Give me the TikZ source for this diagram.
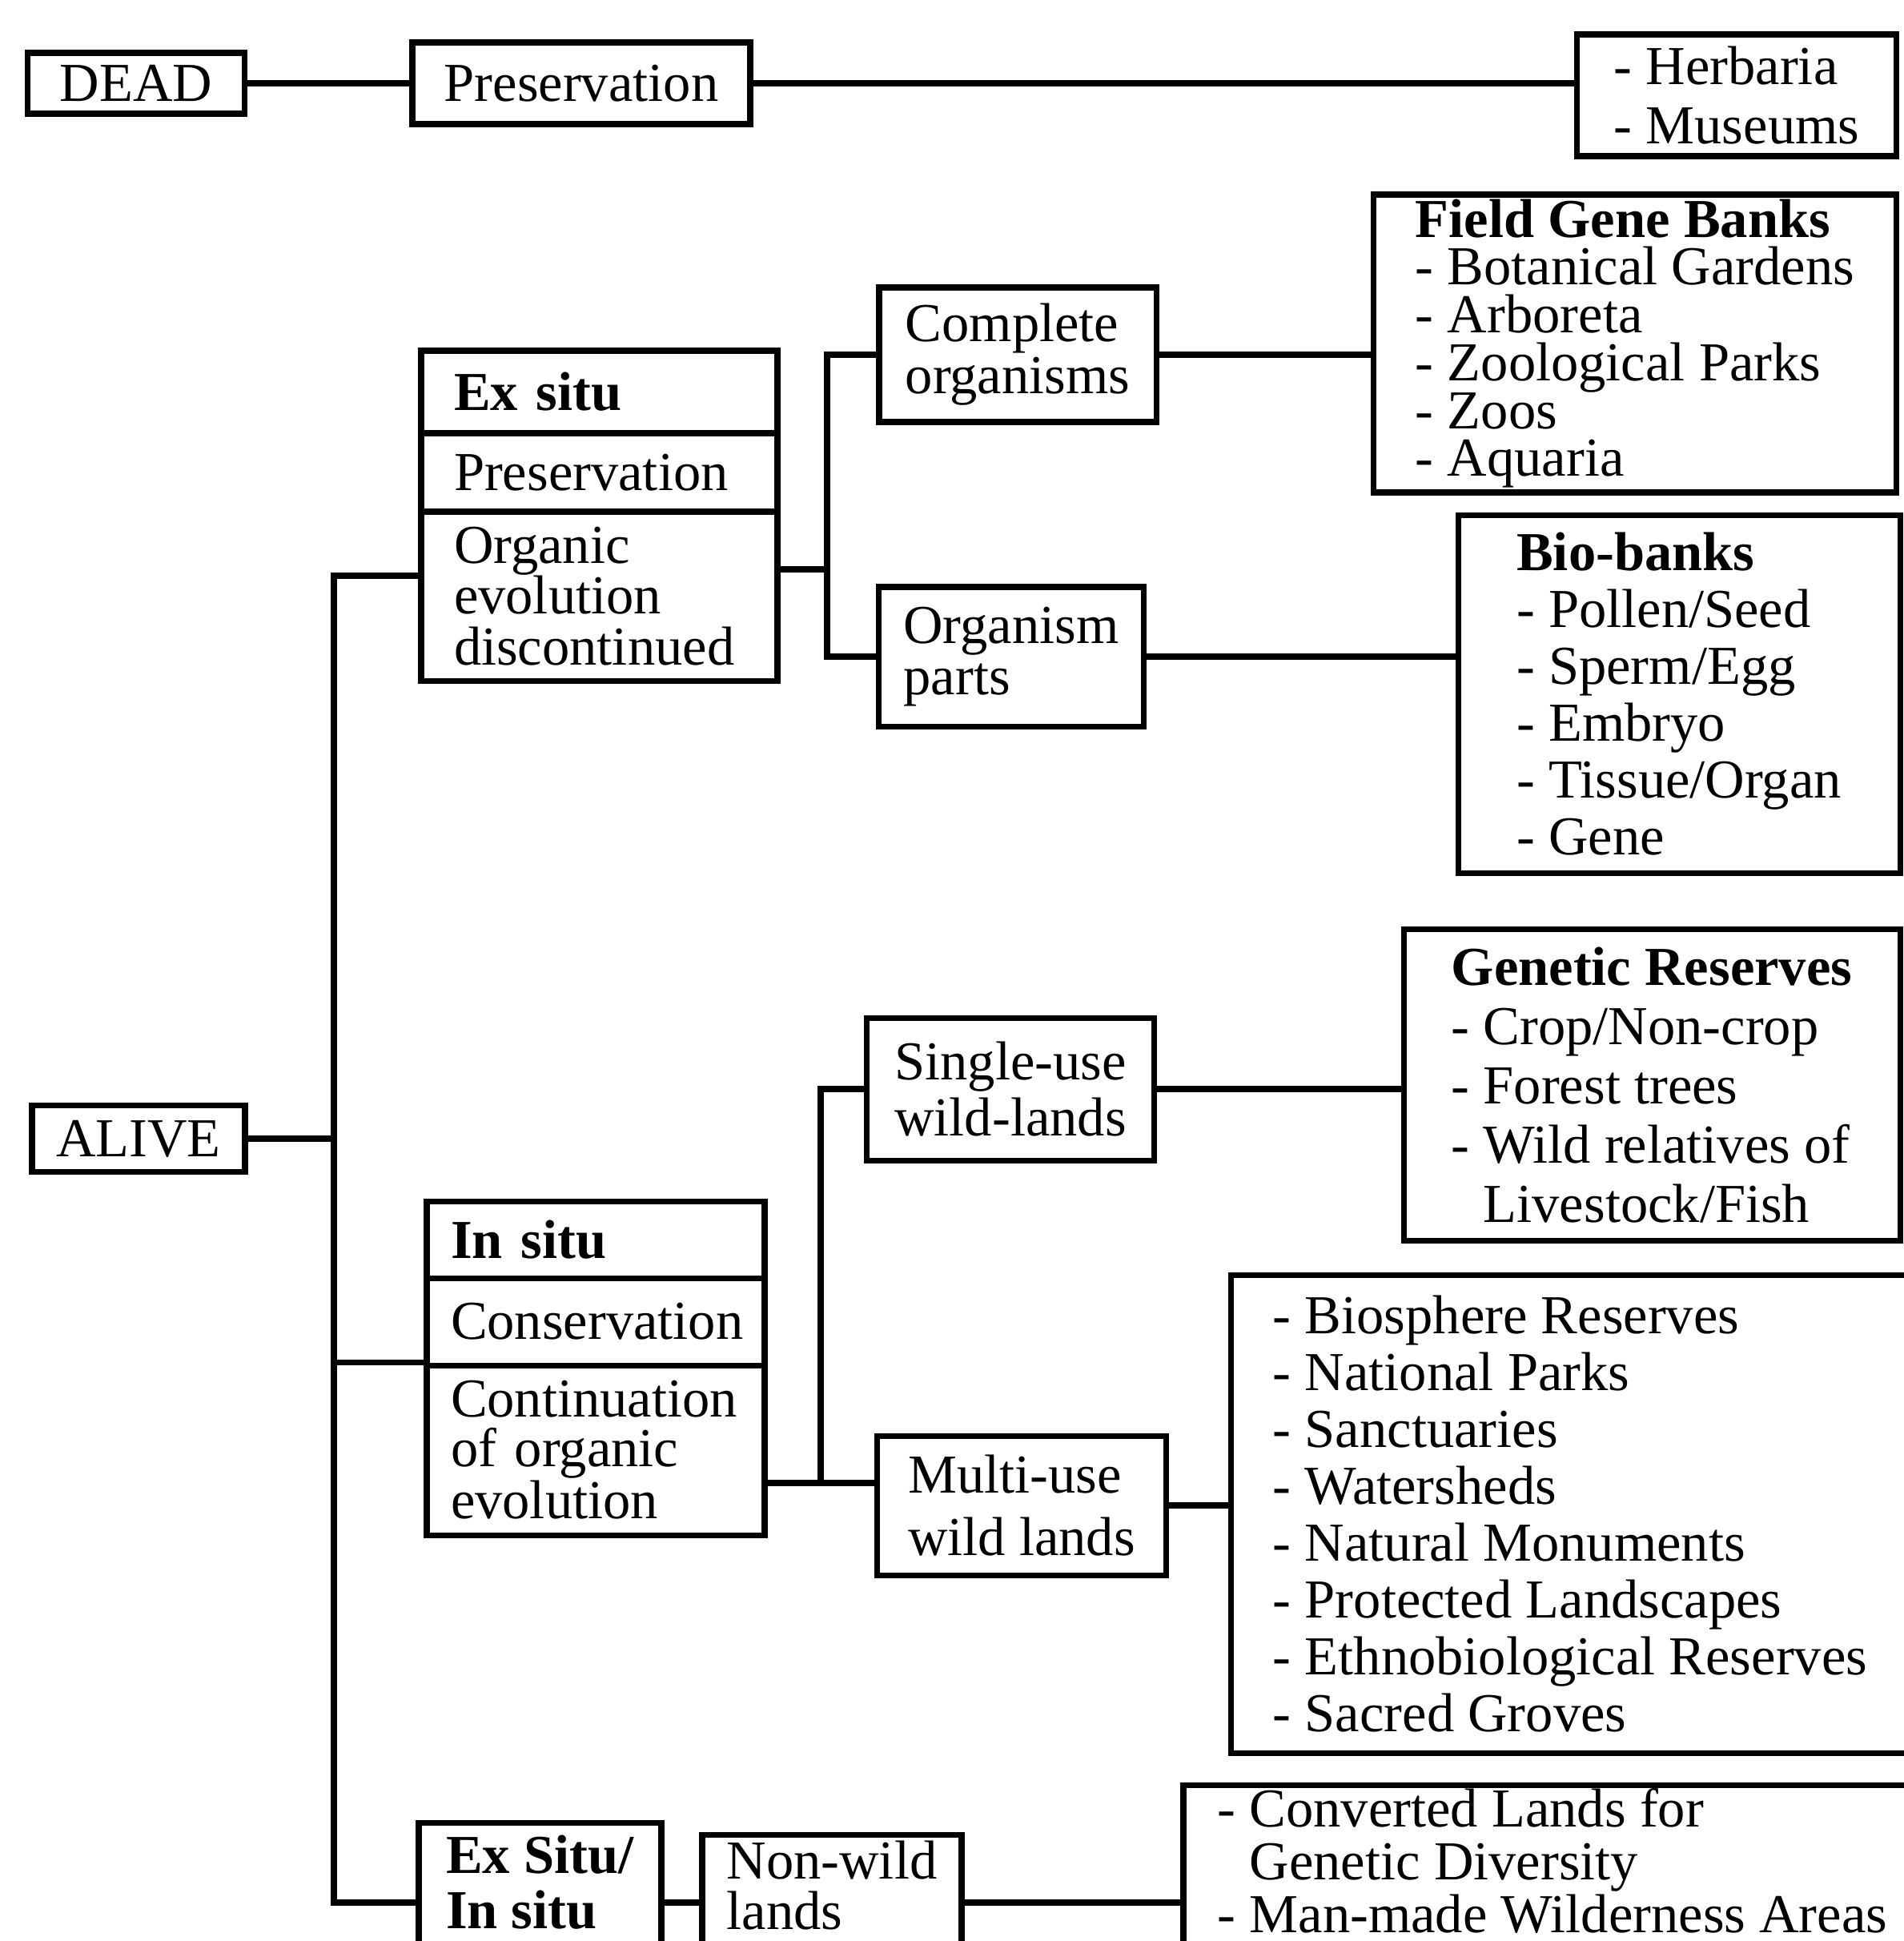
\documentclass[tikz,border=0pt]{standalone}
\usepackage{fontspec}
\setmainfont{Liberation Serif}
\begin{document}
\begin{tikzpicture}[x=1cm,y=-1cm,
	box/.style={draw,line width=2pt,inner sep=0pt,align=left,font=\fontsize{19.5}{20.5}\selectfont},
	part/.style={box,inner ysep=0pt},
	cut/.style={box,anchor=north,text depth=1.5cm},
	link/.style={line width=2.2pt}]
	\useasboundingbox (0,0) rectangle (23.78,24.24);
	\clip (0,0) rectangle (23.78,24.24);

	\node[box,minimum width=2.71cm,minimum height=0.76cm] (D) at (1.70,1.04) {DEAD};
	\node[box,minimum width=4.22cm,minimum height=1.02cm] (P) at (7.26,1.04) {Preservation};
	\node[box,minimum width=3.99cm,minimum height=1.52cm,font=\fontsize{19.5}{21}\selectfont] (H) at (21.69,1.19) {- Herbaria\\- Museums};

	\node[box,minimum width=6.53cm,minimum height=3.72cm,font=\fontsize{19.5}{17}\selectfont] (F) at (20.42,4.29) {\textbf{Field Gene Banks}\\- Botanical Gardens\\- Arboreta\\- Zoological Parks\\- Zoos\\- Aquaria};
	\node[box,minimum width=3.46cm,minimum height=1.68cm,font=\fontsize{19.5}{18.5}\selectfont] (C) at (12.71,4.43) {Complete\\organisms};
	\node[part,inner xsep=0.41cm,text width=3.63cm,minimum height=1.03cm] (E1) at (7.485,4.895) {\textbf{Ex situ}};
	\node[part,inner xsep=0.41cm,text width=3.63cm,minimum height=0.98cm] (E2) at (7.485,5.90) {Preservation};
	\node[part,inner xsep=0.41cm,text width=3.63cm,minimum height=2.11cm,font=\fontsize{19.5}{18}\selectfont] (E3) at (7.485,7.445) {Organic\\evolution\\discontinued};
	\node[box,minimum width=3.31cm,minimum height=1.74cm,font=\fontsize{19.5}{18}\selectfont] (O) at (12.63,8.20) {Organism\\parts};
	\node[box,minimum width=5.52cm,minimum height=4.47cm,font=\fontsize{19.5}{20.2}\selectfont] (B) at (20.97,8.67) {\textbf{Bio-banks}\\- Pollen/Seed\\- Sperm/Egg\\- Embryo\\- Tissue/Organ\\- Gene};

	\node[box,minimum width=2.66cm,minimum height=0.83cm] (A) at (1.73,14.22) {ALIVE};
	\node[part,inner xsep=0.30cm,text width=3.62cm,minimum height=0.96cm] (I1) at (7.44,15.48) {\textbf{In situ}};
	\node[part,inner xsep=0.30cm,text width=3.62cm,minimum height=1.09cm] (I2) at (7.44,16.505) {Conservation};
	\node[part,inner xsep=0.30cm,text width=3.62cm,minimum height=2.12cm,font=\fontsize{19.5}{17.4}\selectfont] (I3) at (7.44,18.11) {Continuation\\of organic\\evolution};
	\node[box,minimum width=3.59cm,minimum height=1.78cm,font=\fontsize{19.5}{19.8}\selectfont] (S) at (12.62,13.60) {Single-use\\wild-lands};
	\node[box,minimum width=6.20cm,minimum height=3.89cm,font=\fontsize{19.5}{21}\selectfont] (G) at (20.63,13.55) {\textbf{Genetic Reserves}\\- Crop/Non-crop\\- Forest trees\\- Wild relatives of\\\phantom{- }Livestock/Fish};
	\node[box,minimum width=3.61cm,minimum height=1.74cm,font=\fontsize{19.5}{22}\selectfont] (M) at (12.76,18.80) {Multi-use\\wild lands};
	\node[box,minimum width=8.48cm,minimum height=5.97cm,font=\fontsize{19.5}{20.2}\selectfont] (W) at (19.61,18.905) {- Biosphere Reserves\\- National Parks\\- Sanctuaries\\- Watersheds\\- Natural Monuments\\- Protected Landscapes\\- Ethnobiological Reserves\\- Sacred Groves};

	\node[cut,inner ysep=0.15cm,minimum width=3.03cm,font=\fontsize{19.5}{19.8}\selectfont] (X) at (6.745,22.73) {\textbf{Ex Situ/}\\\textbf{In situ}};
	\node[cut,inner ysep=0.07cm,minimum width=3.24cm,font=\fontsize{19.5}{18}\selectfont] (N) at (10.39,22.88) {Non-wild\\lands};
	\node[cut,inner ysep=0.04cm,minimum width=9.22cm,font=\fontsize{19.5}{18.8}\selectfont] (V) at (19.39,22.26) {- Converted Lands for\\\phantom{- }Genetic Diversity\\- Man-made Wilderness Areas};

	\coordinate (J1) at (10.33,7.11);
	\coordinate (J2) at (10.25,18.52);
	\coordinate (T1) at (4.17,7.19);
	\coordinate (T2) at (4.17,23.76);

	\draw[link] (D) -- (P);
	\draw[link] (P.east) -- (P.east -| H.west);
	\draw[link] (C.east) -- (C.east -| F.west);
	\draw[link] (E3.east |- J1) -- (J1);
	\draw[link] (C.west) -| (J1) |- (O.west);
	\draw[link] (O.east) -- (O.east -| B.west);
	\draw[link] (A) -- (A -| T1);
	\draw[link] (E3.west |- T1) -- (T1) -- (T2) -- (X.west |- T2);
	\draw[link] (T1 |- I3.north west) -- (I3.north west);
	\draw[link] (I3.east |- J2) -- (M.west |- J2);
	\draw[link] (J2) |- (S.west);
	\draw[link] (S.east) -- (S.east -| G.west);
	\draw[link] (M.east) -- (M.east -| W.west);
	\draw[link] (X.east |- T2) -- (N.west |- T2);
	\draw[link] (N.east |- T2) -- (V.west |- T2);
\end{tikzpicture}
\end{document}
